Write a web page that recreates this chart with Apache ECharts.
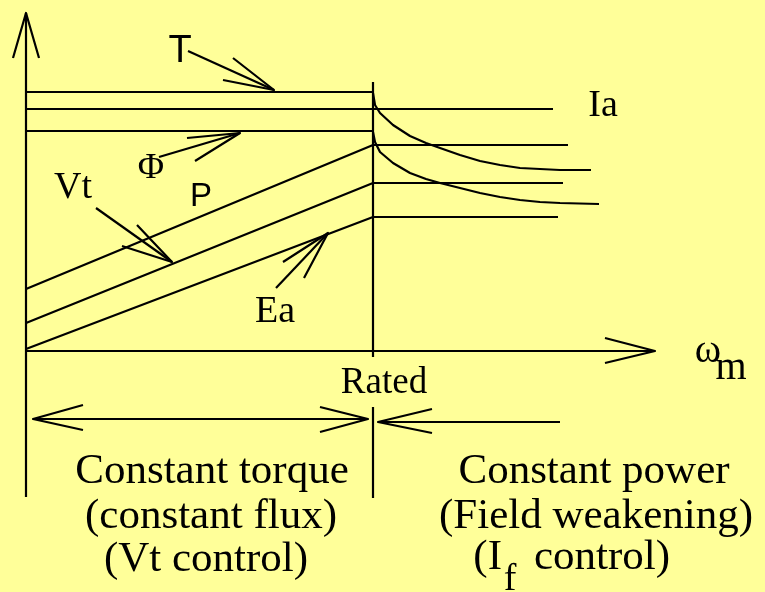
<!DOCTYPE html>
<html lang="en">
<head>
    <meta charset="UTF-8">
    <title>DC Motor Speed Control Regions</title>
    <script src="https://cdn.jsdelivr.net/npm/echarts/dist/echarts.min.js"></script>
    <style>
        html, body { margin: 0; padding: 0; background: #FFFF99; }
        #chart { width: 765px; height: 592px; }
    </style>
</head>
<body>
<div id="chart"></div>
<script>
    // x = speed (px units from origin), y = magnitude above the speed axis
    const ratedSpeed = 347;

    // constant torque region
    const torqueLine = [[0, 259], [347, 259]];
    const iaLine = [[0, 242], [527, 242]];
    const fluxLine = [[0, 220], [347, 220]];
    const powerLine = [[0, 62], [347, 206], [542, 206]];
    const vtLine = [[0, 28], [347, 168], [537, 168]];
    const eaLine = [[0, 2], [347, 134], [532, 134]];

    // field weakening region
    const torqueCurve = [[347, 258], [349, 246], [354, 238], [367, 226], [384, 215], [400, 208], [414, 203], [434, 196], [454, 190], [474, 186], [494, 183], [514, 182], [534, 181], [565, 181]];
    const fluxCurve = [[347, 219], [349, 209], [354, 199], [367, 188], [384, 178], [400, 172], [414, 168], [434, 163], [454, 158], [474, 154], [494, 151], [514, 149], [534, 148], [573, 147]];

    // axes
    const yAxisLine = [[0, -146], [0, 338]];
    const yAxisHead = [[-13, 293], [0, 338], [13, 293]];
    const xAxisLine = [[0, 0], [629, 0]];
    const xAxisHead = [[579, 13], [629, 0], [579, -12]];
    const ratedUpper = [[ratedSpeed, 269], [ratedSpeed, -6]];
    const ratedLower = [[ratedSpeed, -56], [ratedSpeed, -147]];

    // region arrows
    const torqueSpan = [[7, -68], [342, -68]];
    const torqueSpanLeftHead = [[57, -54], [7, -68], [57, -79]];
    const torqueSpanRightHead = [[294, -56], [342, -68], [294, -81]];
    const powerSpan = [[534, -71], [352, -71]];
    const powerSpanHead = [[406, -58], [352, -71], [406, -82]];

    // pointer arrows
    const tPointer = [[162, 300], [248, 261]];
    const tPointerHead = [[207, 293], [248, 261], [197, 271]];
    const phiPointer = [[133, 194], [214, 218]];
    const phiPointerHead = [[161, 213], [214, 218], [169, 190]];
    const vtPointer = [[70, 143], [146, 89]];
    const vtPointerHead = [[111, 126], [146, 89], [96, 105]];
    const eaPointer = [[250, 63], [302, 118]];
    const eaPointerHead = [[257, 89], [302, 118], [278, 73]];

    // labels: [text, x, y, font, size, align]
    const labels = [
        ['T', 154, 299, 'sans', 38, 'center'],
        ['Φ', 125, 182, 'serif', 36, 'center'],
        ['Vt', 47, 163, 'serif', 38, 'center'],
        ['P', 175, 154, 'sans', 33, 'center'],
        ['Ea', 249, 39, 'serif', 38, 'center'],
        ['Ia', 577, 245, 'serif', 38, 'center'],
        ['ω', 682, 0, 'serif', 40, 'center'],
        ['m', 705, -17, 'serif', 40, 'center'],
        ['Rated', 358, -32, 'serif', 37, 'center'],
        ['Constant torque', 186, -121, 'serif', 43, 'center'],
        ['(constant flux)', 185, -166, 'serif', 43, 'center'],
        ['(Vt control)', 180, -209, 'serif', 43, 'center'],
        ['Constant power', 568, -121, 'serif', 43, 'center'],
        ['(Field weakening)', 570, -166, 'serif', 43, 'center'],
        ['(I', 476, -207, 'serif', 43, 'right'],
        ['f', 484, -229, 'serif', 38, 'center'],
        ['control)', 508, -207, 'serif', 43, 'left']
    ];

    const polylines = [
        torqueLine, iaLine, fluxLine, powerLine, vtLine, eaLine,
        yAxisLine, yAxisHead, xAxisLine, xAxisHead, ratedUpper, ratedLower,
        torqueSpan, torqueSpanLeftHead, torqueSpanRightHead, powerSpan, powerSpanHead,
        tPointer, tPointerHead, phiPointer, phiPointerHead,
        vtPointer, vtPointerHead, eaPointer, eaPointerHead,
        torqueCurve, fluxCurve
    ];

    const fonts = { serif: '"Liberation Serif", "Times New Roman", serif', sans: '"Liberation Sans", Arial, sans-serif' };

    const chart = echarts.init(document.getElementById('chart'));

    const series = polylines.map(pts => ({
        type: 'line',
        data: pts,
        symbol: 'none',
        silent: true,
        animation: false,
        clip: false,
        lineStyle: { color: '#000', width: 2.2, join: 'round' }
    }));

    series.push({
        type: 'scatter',
        symbolSize: 0,
        silent: true,
        animation: false,
        itemStyle: { opacity: 1 },
        data: labels.map(l => ({
            value: [l[1], l[2]],
            label: {
                show: true,
                position: 'inside',
                formatter: l[0],
                align: l[5],
                verticalAlign: 'middle',
                color: '#000',
                fontFamily: fonts[l[3]],
                fontSize: l[4]
            }
        }))
    });

    chart.setOption({
        backgroundColor: '#FFFF99',
        animation: false,
        grid: { left: 0, right: 0, top: 0, bottom: 0 },
        xAxis: { type: 'value', min: -26, max: 739, show: false },
        yAxis: { type: 'value', min: -241, max: 351, show: false },
        series: series
    });
</script>
</body>
</html>
